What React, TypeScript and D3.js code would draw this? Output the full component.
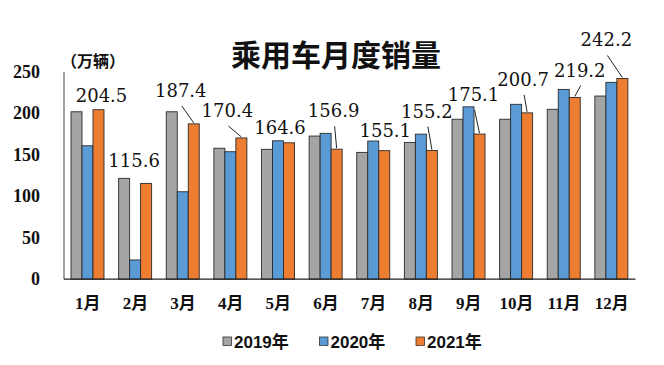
import React from 'react'
import { scaleBand, scaleLinear } from 'd3'

const months = ['1月', '2月', '3月', '4月', '5月', '6月', '7月', '8月', '9月', '10月', '11月', '12月']
const seriesNames = ['2019年', '2020年', '2021年']
const sales2019 = [202, 121.7, 202, 158, 156.7, 172.7, 153, 165, 193, 193, 205, 221]
const sales2020 = [161, 23.2, 105.5, 153.8, 167, 176, 166.7, 175, 208, 211, 229, 237.5]
const sales2021 = [204.5, 115.6, 187.4, 170.4, 164.6, 156.9, 155.1, 155.2, 175.1, 200.7, 219.2, 242.2]
const yTicks = [0, 50, 100, 150, 200, 250]

// where each 2021 label sits, relative to the top of its bar: [dx, dy, leader line?]
const labelOffsets: [number, number, boolean][] = [
    [3, -8, false], [-12, -16, false], [-13, -27, true], [-14, -21, true],
    [-9, -9, false], [-3, -32, true], [1, -14, false], [-5, -33, true],
    [-6, -33, true], [-4, -27, true], [5, -21, true], [-16, -32, true],
]

const colors = ['#A5A5A5', '#5B9BD5', '#ED7D31']

const App = () => {
    const width = 664
    const height = 365
    const left = 64
    const right = 635.5
    const series = [sales2019, sales2020, sales2021]

    const x = scaleBand().domain(months).range([left, right]).padding(0)
    const x1 = scaleBand().domain(seriesNames).range([7, 40]).padding(0)
    const y = scaleLinear().domain([0, 250]).range([279.2, 72])

    const serif = '"Liberation Serif", "Noto Sans CJK SC", serif'

    return (
        <svg width={width} height={height} style={{ position: 'absolute', left: 0, top: 0, background: '#fff' }}>
            <text x={336} y={66} textAnchor="middle" fontSize={30} fontWeight={700}
                fontFamily='"Noto Sans CJK SC", sans-serif' fill="#111">乘用车月度销量</text>
            <text x={61} y={67} fontSize={16} fontWeight={700}
                fontFamily='"Noto Sans CJK SC", sans-serif' fill="#111">（万辆）</text>

            {yTicks.map(t => (
                <text key={t} x={40} y={y(t) + 6} textAnchor="end" fontSize={18} fontWeight={700}
                    fontFamily={serif} fill="#111">{t}</text>
            ))}

            {months.map((m, i) => (
                <g key={m} transform={`translate(${x(m)},0)`}>
                    {series.map((s, k) => (
                        <rect key={k} x={x1(seriesNames[k])} y={y(s[i])} width={x1.bandwidth()}
                            height={y(0) - y(s[i])} fill={colors[k]} stroke="#2b2b2b" strokeWidth={0.9} />
                    ))}
                    <text x={x.bandwidth() / 2} y={309} textAnchor="middle" fontSize={17} fontWeight={700}
                        fontFamily={serif} fill="#111">{m}</text>
                </g>
            ))}

            <line x1={left} x2={left} y1={72} y2={y(0)} stroke="#666" strokeWidth={1.2} />
            <line x1={left} x2={right} y1={y(0)} y2={y(0)} stroke="#222" strokeWidth={1.2} />

            {sales2021.map((v, i) => {
                const cx = (x(months[i]) as number) + (x1('2021年') as number) + x1.bandwidth() / 2
                const top = y(v)
                const [dx, dy, lead] = labelOffsets[i]
                const lx = cx + dx
                const ly = top + dy
                return (
                    <g key={i}>
                        {lead && <line x1={lx + 1} y1={ly + 9} x2={cx} y2={top - 1} stroke="#222" strokeWidth={1} />}
                        <text x={lx} y={ly} textAnchor="middle" fontSize={18}
                            fontFamily='"DejaVu Serif", serif' fill="#111">{v.toFixed(1)}</text>
                    </g>
                )
            })}

            {seriesNames.map((n, k) => (
                <g key={n} transform={`translate(${223 + k * 96.5},0)`}>
                    <rect x={0} y={337} width={8.5} height={8.5} fill={colors[k]} stroke="#333" strokeWidth={0.8} />
                    <text x={11} y={348} fontSize={17} fontWeight={700}
                        fontFamily='"Liberation Sans", "Noto Sans CJK SC", sans-serif' fill="#111">{n}</text>
                </g>
            ))}
        </svg>
    )
}

export default App
